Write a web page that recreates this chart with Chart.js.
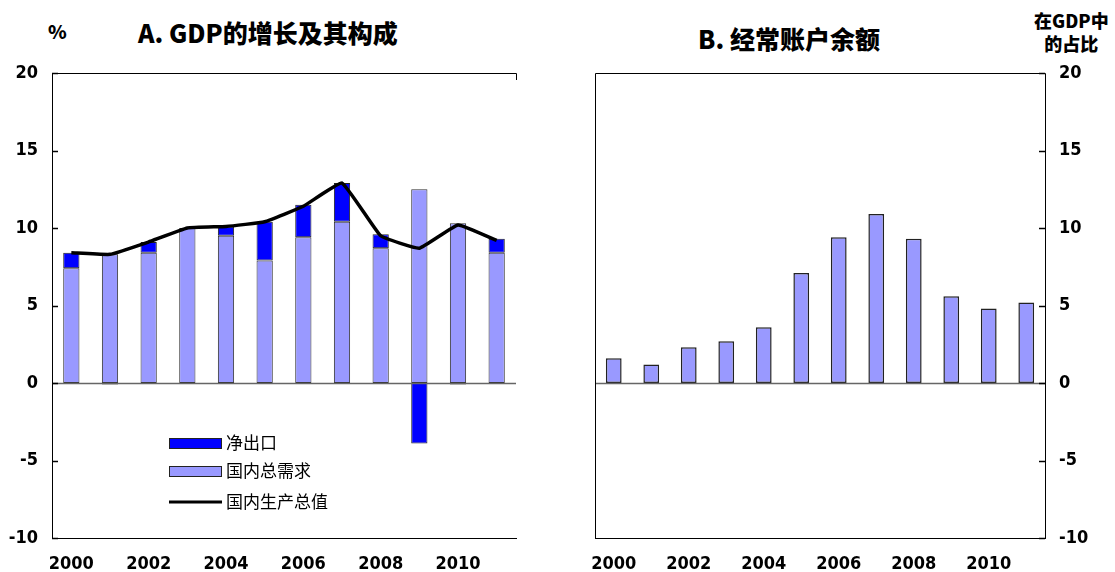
<!DOCTYPE html>
<html>
<head>
<meta charset="utf-8">
<script src="https://cdn.jsdelivr.net/npm/chart.js@4.4.1/dist/chart.umd.min.js"></script>
<style>
  body { margin: 0; background: #fff; width: 1115px; height: 572px; position: relative; overflow: hidden; }
  canvas { position: absolute; top: 0; }
  .ttl { position: absolute; font-family: "Noto Sans CJK SC", sans-serif; font-weight: 900; color: #000; white-space: nowrap; }
</style>
</head>
<body>
<div class="ttl" style="left:48px; top:17px; font-size:19px;">%</div>
<div class="ttl" style="left:138px; top:14px; font-size:25px;">A. GDP的增长及其构成</div>
<div class="ttl" style="left:698px; top:20px; font-size:25px;">B. 经常账户余额</div>
<div class="ttl" style="left:1034px; top:9px; font-size:18px; line-height:23px; text-align:center;">在GDP中<br>的占比</div>
<canvas id="gdpChart" width="545" height="572" style="left:0;"></canvas>
<canvas id="caChart" width="555" height="572" style="left:560px;"></canvas>
<script>
// ---- data ----
const years = ['2000', '2001', '2002', '2003', '2004', '2005', '2006', '2007', '2008', '2009', '2010', '2011'];
const domesticDemand = [7.4, 8.3, 8.4, 10.0, 9.5, 7.9, 9.4, 10.4, 8.7, 12.5, 10.3, 8.4];
const netExports = [1.0, -0.1, 0.7, 0.0, 0.6, 2.5, 2.1, 2.5, 0.9, -3.9, -0.1, 0.9];
const gdpGrowth = [8.4, 8.3, 9.1, 10.0, 10.1, 10.4, 11.4, 12.9, 9.5, 8.7, 10.2, 9.2];
const currentAccount = [1.6, 1.2, 2.3, 2.7, 3.6, 7.1, 9.4, 10.9, 9.3, 5.6, 4.8, 5.2];
const yTicks = [-10, -5, 0, 5, 10, 15, 20];

const DARK_BLUE = '#0000ff';
const LIGHT_BLUE = '#9999ff';
const numFont = { family: '"DejaVu Sans Condensed", "Liberation Sans Narrow", "Liberation Sans", sans-serif', size: 18, weight: 'bold' };

// frame lines, zero line and inward tick marks
const framePlugin = {
    id: 'frame',
    afterDatasetsDraw(chart, args, opts) {
        const { ctx, chartArea: a, scales } = chart;
        const y = scales.y;
        ctx.save();
        // zero line
        ctx.strokeStyle = '#666';
        ctx.lineWidth = 1.5;
        const y0 = Math.round(y.getPixelForValue(0)) + 0.5;
        ctx.beginPath();
        ctx.moveTo(a.left, y0);
        ctx.lineTo(a.right, y0);
        ctx.stroke();
        // box
        ctx.strokeStyle = '#000';
        ctx.lineWidth = 1;
        ctx.beginPath();
        ctx.moveTo(a.left + 0.5, a.bottom + 0.5);
        ctx.lineTo(a.left + 0.5, a.top + 0.5);
        ctx.lineTo(a.right + 0.5, a.top + 0.5);
        if (opts.full) {
            ctx.lineTo(a.right + 0.5, a.bottom + 0.5);
        } else {
            ctx.lineTo(a.right + 0.5, a.top + 7);
        }
        ctx.moveTo(a.left, a.bottom + 0.5);
        ctx.lineTo(a.right + 1, a.bottom + 0.5);
        ctx.stroke();
        // inward ticks on the value axis
        const x = opts.side === 'right' ? a.right : a.left;
        const dir = opts.side === 'right' ? -1 : 1;
        ctx.lineWidth = 1.5;
        yTicks.forEach(v => {
            const py = Math.round(y.getPixelForValue(v)) + 0.5;
            ctx.beginPath();
            ctx.moveTo(x, py);
            ctx.lineTo(x + dir * 6, py);
            ctx.stroke();
        });
        ctx.restore();
    }
};

// legend drawn inside the plot area
const boxLegendPlugin = {
    id: 'boxLegend',
    afterDraw(chart) {
        const { ctx } = chart;
        const items = [
            { label: '净出口', type: 'box', color: DARK_BLUE, y: 443 },
            { label: '国内总需求', type: 'box', color: LIGHT_BLUE, y: 471 },
            { label: '国内生产总值', type: 'line', color: '#000', y: 502 }
        ];
        ctx.save();
        ctx.font = '17px "Noto Sans CJK SC", sans-serif';
        ctx.textBaseline = 'middle';
        items.forEach(it => {
            if (it.type === 'box') {
                ctx.fillStyle = it.color;
                ctx.fillRect(169, it.y - 5, 52, 10);
                ctx.strokeStyle = '#222';
                ctx.lineWidth = 1;
                ctx.strokeRect(169.5, it.y - 4.5, 52, 10);
            } else {
                ctx.strokeStyle = it.color;
                ctx.lineWidth = 3;
                ctx.beginPath();
                ctx.moveTo(169, it.y);
                ctx.lineTo(222, it.y);
                ctx.stroke();
            }
            ctx.fillStyle = '#000';
            ctx.fillText(it.label, 226, it.y);
        });
        ctx.restore();
    }
};

function xScale() {
    return {
        stacked: true,
        grid: { display: false, drawTicks: false },
        border: { display: false },
        afterFit(scale) { scale.height = 34; },
        ticks: {
            autoSkip: false,
            maxRotation: 0,
            padding: 16,
            color: '#000',
            font: numFont,
            callback(value, index) { return index % 2 === 0 ? years[index] : ''; }
        }
    };
}

function yScale(position, width) {
    return {
        position: position,
        stacked: true,
        min: -10,
        max: 20,
        afterFit(scale) { scale.width = width; },
        afterBuildTicks(scale) { scale.ticks = yTicks.map(v => ({ value: v })); },
        grid: { display: false, drawTicks: false },
        border: { display: false },
        ticks: { color: '#000', font: numFont, padding: 14 }
    };
}

// Panel A: GDP growth and its composition
new Chart(document.getElementById('gdpChart'), {
    type: 'bar',
    data: {
        labels: years,
        datasets: [
            {
                label: '国内总需求',
                data: domesticDemand,
                backgroundColor: LIGHT_BLUE,
                borderColor: '#333',
                borderWidth: 1,
                borderSkipped: false,
                stack: 'bars',
                order: 1
            },
            {
                label: '净出口',
                data: netExports,
                backgroundColor: DARK_BLUE,
                borderColor: '#222',
                borderWidth: 1,
                borderSkipped: false,
                stack: 'bars',
                order: 1
            },
            {
                type: 'line',
                label: '国内生产总值',
                data: gdpGrowth,
                borderColor: '#000',
                borderWidth: 3.5,
                pointRadius: 0,
                tension: 0.1,
                stack: 'gdp',
                order: 0
            }
        ]
    },
    options: {
        responsive: false,
        animation: false,
        categoryPercentage: 1,
        barPercentage: 0.42,
        layout: { padding: { left: 0, top: 73, right: 29, bottom: 0 } },
        plugins: { legend: { display: false }, tooltip: { enabled: false }, frame: { side: 'left', full: false } },
        scales: { x: xScale(), y: yScale('left', 52) }
    },
    plugins: [framePlugin, boxLegendPlugin]
});

// Panel B: current account balance
new Chart(document.getElementById('caChart'), {
    type: 'bar',
    data: {
        labels: years,
        datasets: [
            {
                label: '经常账户余额',
                data: currentAccount,
                backgroundColor: LIGHT_BLUE,
                borderColor: '#222',
                borderWidth: 1.5,
                borderSkipped: false
            }
        ]
    },
    options: {
        responsive: false,
        animation: false,
        categoryPercentage: 1,
        barPercentage: 0.42,
        layout: { padding: { left: 35, top: 73, right: 0, bottom: 0 } },
        plugins: { legend: { display: false }, tooltip: { enabled: false }, frame: { side: 'right', full: true } },
        scales: { x: xScale(), y: yScale('right', 70) }
    },
    plugins: [framePlugin]
});
</script>
</body>
</html>
